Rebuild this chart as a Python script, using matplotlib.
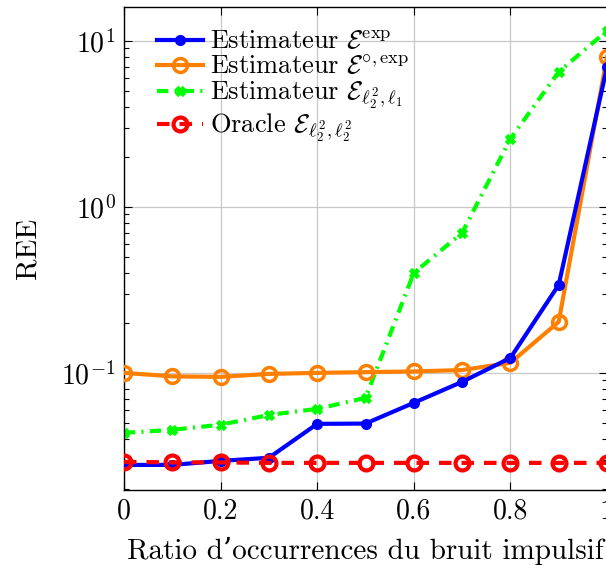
import matplotlib
matplotlib.use("Agg")
import matplotlib.pyplot as plt
from matplotlib.ticker import LogLocator, NullFormatter, FixedLocator

plt.rcParams['font.family'] = ['cmr10', 'DejaVu Serif']
plt.rcParams['mathtext.fontset'] = 'cm'
plt.rcParams['axes.formatter.use_mathtext'] = True

x = [0.0, 0.1, 0.2, 0.3, 0.4, 0.5, 0.6, 0.7, 0.8, 0.9, 1.0]
ree_exp = [0.0279, 0.0279, 0.0295, 0.0308, 0.0493, 0.0495, 0.0660, 0.0883, 0.123, 0.339, 6.97]
ree_circ_exp = [0.100, 0.0953, 0.0946, 0.0986, 0.100, 0.101, 0.102, 0.104, 0.115, 0.203, 8.0]
ree_l2l1 = [0.0435, 0.0454, 0.0487, 0.0558, 0.0607, 0.0707, 0.400, 0.697, 2.57, 6.51, 11.5]
ree_oracle = [0.0291, 0.0289, 0.0289, 0.0287, 0.0287, 0.0287, 0.0287, 0.0287, 0.0287, 0.0287, 0.0287]

labels = [r"Estimateur $\mathcal{E}^{\mathrm{exp}}$",
          r"Estimateur $\mathcal{E}^{\circ,\mathrm{exp}}$",
          r"Estimateur $\mathcal{E}_{\ell_2^2,\ell_1}$",
          r"Oracle $\mathcal{E}_{\ell_2^2,\ell_2^2}$"]

fig = plt.figure(figsize=(6.06, 5.68), dpi=100)
ax = fig.add_axes([124/606, 78/568, 483/606, 483/568])

ax.plot(x, ree_exp, color='#0000ff', lw=3, marker='o', ms=7, mfc='#0000ff', mec='#0000ff', label=labels[0], zorder=4)
ax.plot(x, ree_circ_exp, color='#ff8000', lw=3, marker='o', ms=10, mfc='none', mec='#ff8000', mew=2.5, label=labels[1], zorder=3)
ax.plot(x, ree_l2l1, color='#00ff00', lw=3, ls=(0, (2.7, 1.5, 0.5, 1.5)), marker='x', ms=6, mew=3.5, mec='#00ff00', label=labels[2], zorder=2)
ax.plot(x, ree_oracle, color='#ff0000', lw=3, ls=(0, (3, 2.4)), marker='o', ms=10, mfc='none', mec='#ff0000', mew=3, label=labels[3], zorder=5)

ax.set_yscale('log')
ax.set_xlim(0, 1)
ax.set_ylim(0.0197, 16.0)
ax.set_xticks([0, 0.2, 0.4, 0.6, 0.8, 1.0])
ax.set_xticklabels(['0', '0.2', '0.4', '0.6', '0.8', '1'])
ax.yaxis.set_major_locator(FixedLocator([0.1, 1, 10]))
ax.set_yticklabels([r'$10^{-1}$', r'$10^{0}$', r'$10^{1}$'])
ax.yaxis.set_minor_locator(LogLocator(base=10, subs=range(2, 10), numticks=20))
ax.yaxis.set_minor_formatter(NullFormatter())
ax.tick_params(which='both', direction='in', top=True, right=True, labelsize=20, width=0.8)
ax.tick_params(which='major', length=6, pad=6)
ax.tick_params(which='minor', length=3.5)
ax.grid(True, which='major', color='#c8c8c8', lw=0.9)
ax.set_axisbelow(True)
for s in ax.spines.values():
    s.set_linewidth(1.0)

ax.set_xlabel("Ratio d\u2019occurrences du bruit impulsif", fontsize=21, labelpad=9)
ax.set_ylabel("REE", fontsize=21, labelpad=14)

leg = ax.legend(loc='upper left', bbox_to_anchor=(0.035, 0.985), fontsize=19, frameon=False,
                handlelength=1.75, handletextpad=0.25, labelspacing=0.03, numpoints=1,
                borderaxespad=0.2)

fig.savefig('out.png', dpi=100)
